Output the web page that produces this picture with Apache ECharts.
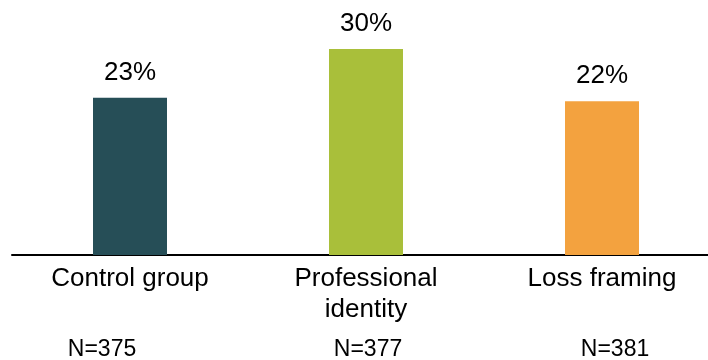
<!DOCTYPE html>
<html>
<head>
<meta charset="utf-8">
<script src="https://cdn.jsdelivr.net/npm/echarts@6/dist/echarts.min.js"></script>
<style>
  html, body { margin: 0; padding: 0; background: #fff; }
  #chart1 { width: 708px; height: 360px; }
</style>
</head>
<body>
<div id="chart1"></div>
<script>
// data
var categories = ['Control group', 'Professional\nidentity', 'Loss framing']
var shares = [22.9, 30, 22.4]
var sampleSizes = ['N=375', 'N=377', 'N=381']
var barColors = ['#264E57', '#A9BF3A', '#F3A23F']

var font = 'Liberation Sans, Arial, sans-serif'
var charts = echarts.init(document.getElementById('chart1'))

var option = {
  animation: false,
  grid: { left: 12, right: -12, top: 49, bottom: 105, outerBoundsMode: 'none' },
  xAxis: [
    {
      type: 'category',
      data: categories,
      axisTick: { show: false },
      axisLine: { lineStyle: { color: '#000', width: 2 } },
      axisLabel: {
        color: '#000',
        fontFamily: font,
        fontSize: 26,
        lineHeight: 31,
        margin: 8,
        interval: 0
      }
    },
    {
      type: 'category',
      position: 'bottom',
      data: sampleSizes,
      axisTick: { show: false },
      axisLine: { show: false },
      axisLabel: {
        interval: 0,
        margin: 83,
        formatter: function (value, idx) {
          return '{n' + idx + '|' + value + '}'
        },
        rich: {
          n0: { color: '#000', fontFamily: font, fontSize: 23, padding: [0, 56, 0, 0] },
          n1: { color: '#000', fontFamily: font, fontSize: 23, padding: [0, 0, 0, 4] },
          n2: { color: '#000', fontFamily: font, fontSize: 23, padding: [0, 0, 0, 26] }
        }
      }
    }
  ],
  yAxis: {
    type: 'value',
    min: 0,
    max: 30,
    show: false,
    splitLine: { show: false }
  },
  series: [
    {
      type: 'bar',
      barWidth: 74,
      data: shares.map(function (v, i) {
        return { value: v, itemStyle: { color: barColors[i] } }
      }),
      label: {
        show: true,
        position: 'top',
        distance: 12,
        color: '#000',
        fontFamily: font,
        fontSize: 26,
        formatter: function (p) {
          return Math.round(p.value) + '%'
        }
      }
    }
  ]
}
charts.setOption(option)
</script>
</body>
</html>
